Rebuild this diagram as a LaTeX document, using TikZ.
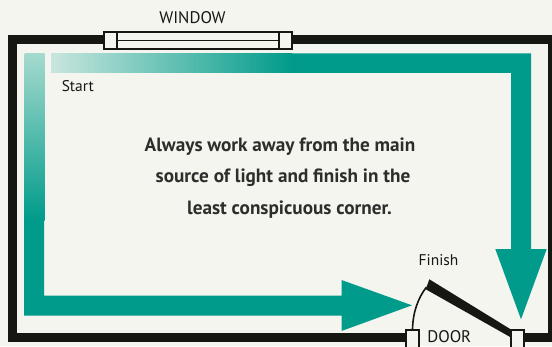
\documentclass[tikz,border=0pt]{standalone}
\usepackage{fontspec}
\setmainfont{PT Sans}
\usepackage{xcolor}
\definecolor{roombg}{RGB}{244,245,239}
\definecolor{wallblack}{RGB}{22,22,19}
\definecolor{pathgreen}{RGB}{0,155,138}
\definecolor{pathlight}{RGB}{200,230,222}
\definecolor{pathmid}{RGB}{165,218,206}
\usetikzlibrary{arrows.meta, positioning}
\tikzset{
  wall/.style={draw=wallblack, line width=6.75pt, miter limit=10},
  frame/.style={draw=wallblack, line width=1.5pt, fill=roombg},
  label/.style={font=\fontsize{11.6}{14}\selectfont, text=wallblack, inner sep=0pt},
  caps/.style={font=\fontsize{12.6}{14}\selectfont, text=wallblack, inner sep=0pt},
  advice/.style={font=\fontsize{14.4}{16}\selectfont\bfseries, text=wallblack!90, inner sep=0pt},
}

\begin{document}
\begin{tikzpicture}[x=0.75pt, y=-0.75pt]

\clip (0,0) rectangle (552,346);
\fill[roombg] (0,0) rectangle (552,346);

% === Walls ===
\draw[wall] (405,337.7) -- (12,337.7) -- (12,40) -- (552.2,40) -- (552.2,337.7) -- (524,337.7);

% === Window ===
\draw[frame] (104,32.3) rectangle (292,49.3);
\draw[wallblack, line width=1.2pt] (117,32.3) -- (117,49.3);
\draw[wallblack, line width=1.2pt] (279,32.3) -- (279,49.3);
\draw[wallblack, line width=1.2pt] (117,40.5) -- (279,40.5);
\node[caps] (windowlabel) at (192.5,17.5) {WINDOW};

% === Green paths ===
% Top band fading in, then down to the door
\shade[left color=pathlight, right color=pathgreen] (51,53.3) rectangle (292,72.8);
\fill[pathgreen] (291.5,53.3) -- (531,53.3) -- (531,249) -- (546.7,249) -- (521,319.3)
  -- (495.3,249) -- (511,249) -- (511,72.8) -- (291.5,72.8) -- cycle;

% Left band fading in, then along the floor
\shade[top color=pathmid, bottom color=pathgreen] (24.7,53.3) rectangle (44.7,220);
\fill[pathgreen] (24,219.8) -- (44.2,219.8) -- (44.2,295.7) -- (341.5,295.7) -- (341.5,280)
  -- (412,305.3) -- (341.5,331) -- (341.5,315.7) -- (24,315.7) -- cycle;

\node[label, anchor=west] (startlabel) at (61.5,86) {Start};

% === Door ===
\fill[wallblack] (429.3,279.3) -- (425.8,289.3) -- (511,337.5) -- (511,329.5) -- cycle;
\draw[wallblack, line width=1.2pt] (426.5,287) .. controls (418,298) and (413,312) .. (412.5,329);
\draw[frame] (405.8,329.8) rectangle (418.6,352);
\draw[frame] (511.4,329.8) rectangle (524,352);
\node[label] (finishlabel) at (438.5,260) {Finish};
\node[caps, anchor=west] (doorlabel) at (427,337) {DOOR};

% === Advice ===
\node[advice] (adviceone) at (280,147) {Always work away from the main};
\node[advice] (advicetwo) at (283,177.5) {source of light and finish in the};
\node[advice] (advicethree) at (289.5,209.5) {least conspicuous corner.};

\end{tikzpicture}
\end{document}
